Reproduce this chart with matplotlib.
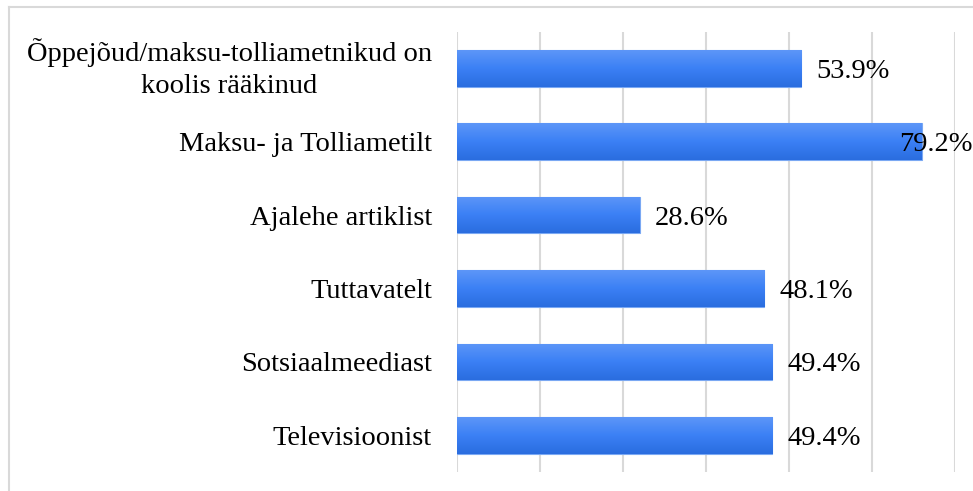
import matplotlib.pyplot as plt
import numpy as np
from matplotlib.colors import LinearSegmentedColormap
from matplotlib.lines import Line2D

sources = ['Õppejõud/maksu-tolliametnikud on\nkoolis rääkinud',
           'Maksu- ja Tolliametilt',
           'Ajalehe artiklist',
           'Tuttavatelt',
           'Sotsiaalmeediast',
           'Televisioonist']
# bar lengths as drawn in the picture (the second bar is shorter than its label says)
shares = [53.9, 72.8, 28.6, 48.1, 49.4, 49.4]
share_labels = ['53.9%', '79.2%', '28.6%', '48.1%', '49.4%', '49.4%']
grid_ticks = [0, 13, 26, 39, 52, 65, 78]

plt.rcParams['font.family'] = ['Liberation Serif', 'DejaVu Serif']
fs = 20.5

fig = plt.figure(figsize=(9.73, 4.91), dpi=100)
ax = fig.add_axes([457 / 973, 19 / 491, 498 / 973, 440.5 / 491])

y = np.arange(len(sources))[::-1]
bars = ax.barh(y, shares, height=0.5, color='#3f82f2', edgecolor='#7aa8f3',
               linewidth=0.8, zorder=2)

# vertical gradient inside each bar
grad = LinearSegmentedColormap.from_list('g', ['#5d96f8', '#3b80f5', '#2a6ddf'])
g = np.linspace(0, 1, 100).reshape(-1, 1)
for b in bars:
    x0, y0 = b.get_x(), b.get_y()
    im = ax.imshow(g, cmap=grad, aspect='auto', zorder=2.5,
                   extent=[x0, x0 + b.get_width(), y0, y0 + b.get_height()],
                   origin='upper')
    im.set_clip_path(b)

ax.set_xlim(0, 78)
ax.set_ylim(-0.5, len(sources) - 0.5)
ax.set_xticks(grid_ticks)
ax.xaxis.grid(True, color='#d9d9d9', linewidth=1.5, zorder=0)
ax.tick_params(axis='x', length=0, labelbottom=False)
ax.tick_params(axis='y', length=0, pad=18)
ax.set_yticks(y)
labels = ax.set_yticklabels(sources, fontsize=fs, multialignment='center',
                            linespacing=1.35)
for t in labels:
    if '\n' in t.get_text():
        t.set_va('center')
for s in ax.spines.values():
    s.set_visible(False)

for yi, v, lab in zip(y, shares, share_labels):
    if v > 70:
        ax.annotate(lab, xy=(1.0, yi), xycoords=('figure fraction', 'data'),
                    ha='right', va='center_baseline', fontsize=fs, zorder=4,
                    annotation_clip=False)
    else:
        ax.annotate(lab, xy=(v, yi), xytext=(11, 0), textcoords='offset points',
                    ha='left', va='center_baseline', fontsize=fs, zorder=4)

# light frame around the chart area
fig.add_artist(Line2D([9 / 973, 1.0], [1 - 7 / 491, 1 - 7 / 491],
                      color='#d9d9d9', linewidth=1.5))
fig.add_artist(Line2D([9 / 973, 9 / 973], [0, 1 - 7 / 491],
                      color='#d9d9d9', linewidth=1.5))

fig.savefig('out.png', dpi=100)
